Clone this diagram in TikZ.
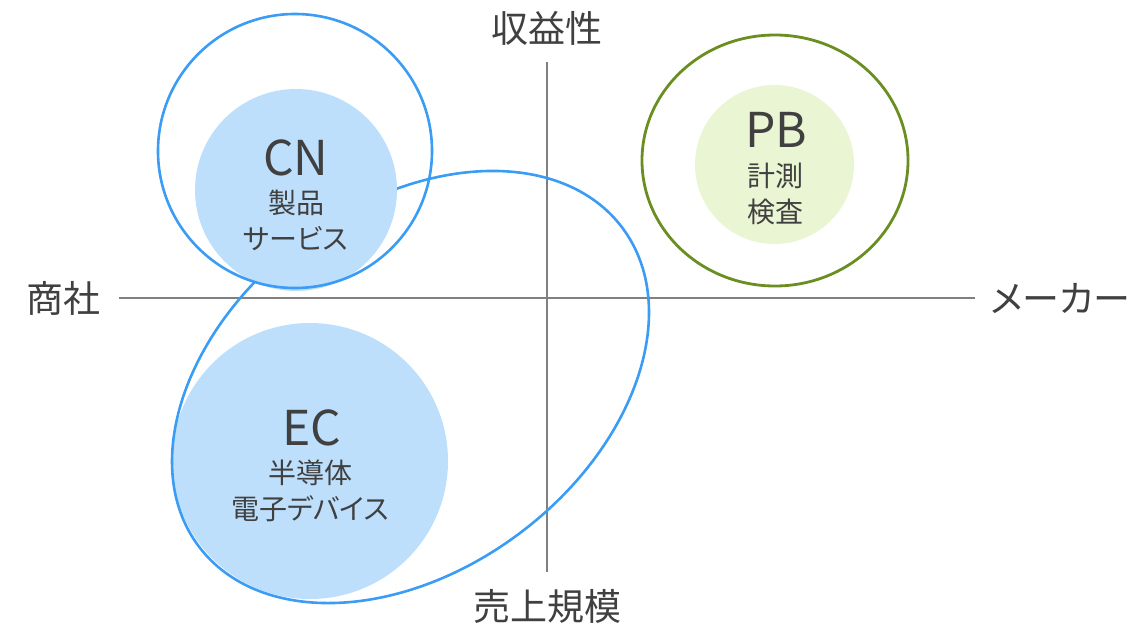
\documentclass[tikz,border=0pt]{standalone}
\usepackage{fontspec}
\setmainfont{Noto Sans CJK JP}
\newfontfamily\kana[RawFeature=+palt]{Noto Sans CJK JP}
\usetikzlibrary{shapes.geometric}
\definecolor{axisgray}{HTML}{808080}
\definecolor{blueline}{HTML}{3A9CF5}
\definecolor{bluefill}{HTML}{BDDFFC}
\definecolor{greenline}{HTML}{6B8E23}
\definecolor{greenfill}{HTML}{E9F5D3}
\definecolor{txt}{HTML}{404040}
\begin{document}
\begin{tikzpicture}[x=1pt,y=-1pt,
  axis/.style={draw=axisgray,line width=2pt},
  axislabel/.style={text=txt,font=\fontsize{37}{44}\selectfont,inner sep=0pt},
  fillcirc/.style={circle,fill=#1,draw=none,inner sep=0pt,outer sep=0pt},
  outline/.style={draw=#1,line width=2.6pt,inner sep=0pt,outer sep=0pt},
  bigtxt/.style={text=txt,font=\fontsize{48}{52}\selectfont,inner sep=0pt},
  subtxt/.style={text=txt,font=\fontsize{28}{36}\selectfont,align=center,inner sep=0pt}]
\useasboundingbox (0,0) rectangle (1139,624);
% axes
\coordinate (vt) at (547,62);
\coordinate (vb) at (547,572);
\coordinate (hl) at (119,298);
\coordinate (hr) at (975,298);
\draw[axis] (vt) -- (vb);
\draw[axis] (hl) -- (hr);
% axis labels
\node[axislabel] (top) at (547,28) {収益性};
\node[axislabel] (bottom) at (547,606) {売上規模};
\node[axislabel] (left) at (63,298) {商社};
\node[axislabel] (right) at (1060,298) {\kana メーカー};
% EC fill
\node[fillcirc=bluefill,minimum size=276pt] (ECf) at (310,461) {};
% group ellipse
\node[ellipse,outline=blueline,rotate=37,minimum width=530pt,minimum height=365pt] (grp) at (410.5,387) {};
% CN
\node[fillcirc=bluefill,minimum size=202pt] (CNf) at (296,190) {};
\node[circle,outline=blueline,minimum size=274pt] (CNo) at (295,151) {};
% PB
\node[ellipse,outline=greenline,line width=2.8pt,minimum width=266pt,minimum height=251pt] (PBo) at (775,160.5) {};
\node[fillcirc=greenfill,minimum size=159pt] (PBf) at (774.5,164.5) {};
% texts
\node[bigtxt] (CNt) at (296,158) {CN};
\node[subtxt] (CNs) at (296,220) {製品\\{\kana サービス}};
\node[bigtxt] (ECt) at (312,428) {EC};
\node[subtxt] (ECs) at (310,490.5) {半導体\\電子{\kana デバイス}};
\node[bigtxt] (PBt) at (776,130) {PB};
\node[subtxt] (PBs) at (775,194) {計測\\検査};
\end{tikzpicture}
\end{document}
